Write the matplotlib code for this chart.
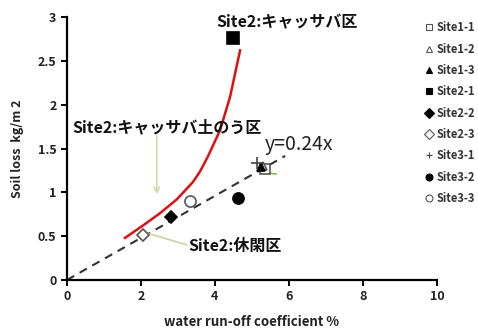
import matplotlib
matplotlib.use("Agg")
import matplotlib.pyplot as plt
from matplotlib.lines import Line2D

plt.rcParams['font.family'] = ['Noto Sans CJK JP', 'DejaVu Sans']

# site points (water run-off coefficient %, soil loss kg/m2)
site_names = ['Site1-1', 'Site1-2', 'Site1-3', 'Site2-1', 'Site2-2',
              'Site2-3', 'Site3-1', 'Site3-2', 'Site3-3']
site_x = [5.35, 5.3, 5.25, 4.5, 2.82, 2.05, 5.15, 4.62, 3.32]
site_y = [1.27, 1.3, 1.29, 2.76, 0.72, 0.51, 1.33, 0.94, 0.90]
markers = ['s', '^', '^', 's', 'D', 'D', '+', 'o', 'o']
filled = [False, False, True, True, True, False, False, True, False]
sizes = [7, 6, 6, 9, 6, 6, 8, 8, 8]

# red curve
curve_x = [1.57, 2.05, 2.51, 2.97, 3.41, 3.6, 3.8, 4.14, 4.41, 4.68]
curve_y = [0.48, 0.62, 0.76, 0.92, 1.12, 1.24, 1.4, 1.71, 2.09, 2.62]

slope = 0.24
line_x = [0, 5.9]

fig = plt.figure(figsize=(4.78, 3.29), dpi=100)
ax = fig.add_axes([0.140, 0.149, 0.774, 0.799])

ax.plot(line_x, [slope * v for v in line_x], color='#333333', lw=1.5,
        ls=(0, (4, 3)), zorder=2)
ax.plot(curve_x, curve_y, color='#e01010', lw=1.8, zorder=3)

handles = []
for name, x, y, m, f, s in zip(site_names, site_x, site_y, markers, filled, sizes):
    fc = 'black' if f else 'white'
    ec = 'black' if m != '+' else '#444444'
    if not f and m in ('o', 'D', 's', '^'):
        ec = '#555555'
    ax.plot([x], [y], marker=m, ms=s, mfc=fc, mec=ec, mew=1.2, ls='none', zorder=4)
    handles.append(Line2D([], [], marker=m, ms=5, mfc=fc, mec=ec, mew=0.8,
                          ls='none', label=name))

green = '#c8d89c'
ax.annotate('', xy=(2.43, 0.95), xytext=(2.43, 1.68),
            arrowprops=dict(arrowstyle='->', color=green, lw=1))
ax.plot([2.05, 3.24], [0.55, 0.40], color=green, lw=1.2)
ax.plot([5.4, 5.65], [1.22, 1.21], color='#7fc040', lw=1.2)

jp = dict(fontsize=11.5, fontweight='bold', color='#111111', va='center')
ax.text(4.03, 2.94, 'Site2:キャッサバ区', **jp)
ax.text(0.14, 1.745, 'Site2:キャッサバ土のう区', **jp)
ax.text(3.27, 0.39, 'Site2:休閑区', **jp)
ax.text(5.35, 1.55, 'y=0.24x', fontsize=14, color='#222222', va='center')

ax.set_xlim(0, 10)
ax.set_ylim(0, 3)
ax.set_xticks([0, 2, 4, 6, 8, 10])
ax.set_yticks([0, 0.5, 1, 1.5, 2, 2.5, 3])
ax.set_yticklabels(['0', '0.5', '1', '1.5', '2', '2.5', '3'])
for side in ('top', 'right'):
    ax.spines[side].set_visible(False)
for side in ('left', 'bottom'):
    ax.spines[side].set_linewidth(1.6)
ax.tick_params(direction='out', width=1.4, length=4, labelsize=9)
for lab in ax.get_xticklabels() + ax.get_yticklabels():
    lab.set_fontweight('bold')
    lab.set_color('#222222')

ax.set_xlabel('water run-off coefficient %', fontsize=9.5, fontweight='bold',
              color='#222222', labelpad=8)
ax.set_ylabel('Soil loss  kg/m 2', fontsize=9, fontweight='bold',
              color='#222222', labelpad=10)

fig.legend(handles=handles, loc='upper left', bbox_to_anchor=(0.867, 0.966),
           frameon=False, handlelength=0.8, handletextpad=0.3,
           labelspacing=0.75, labelcolor='#333333',
           prop=dict(weight='bold', size=8))

fig.savefig('out.png', dpi=100)
